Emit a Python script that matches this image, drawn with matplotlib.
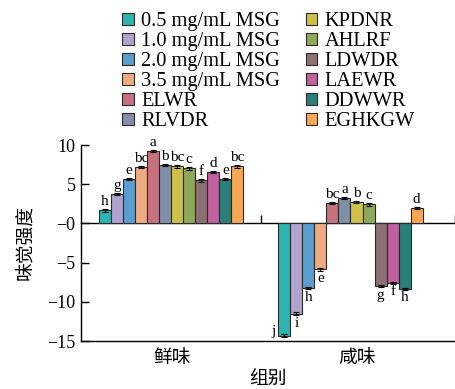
import matplotlib
matplotlib.use("Agg")
import matplotlib.pyplot as plt
import numpy as np
from matplotlib.patches import Patch

groups = ["鲜味", "咸味"]
series = ["0.5 mg/mL MSG", "1.0 mg/mL MSG", "2.0 mg/mL MSG", "3.5 mg/mL MSG",
          "ELWR", "RLVDR", "KPDNR", "AHLRF", "LDWDR", "LAEWR", "DDWWR", "EGHKGW"]
colors = ["#2bb5b0", "#b1a3cf", "#589fd0", "#eeab80", "#c7707e", "#7e8fa8",
          "#cfc04a", "#8fa75a", "#8d7074", "#c0609c", "#2a7f78", "#f6a855"]

umami = [1.66, 3.79, 5.7, 7.19, 9.23, 7.41, 7.28, 7.02, 5.49, 6.55, 5.7, 7.28]
salty = [-14.3, -11.53, -8.26, -5.87, 2.6, 3.24, 2.72, 2.43, -8.0, -7.57, -8.34, 1.95]
umami_err = [0.2, 0.15, 0.15, 0.15, 0.15, 0.15, 0.15, 0.15, 0.15, 0.15, 0.15, 0.15]
salty_err = [0.2, 0.2, 0.15, 0.15, 0.15, 0.15, 0.15, 0.15, 0.15, 0.15, 0.15, 0.15]
umami_sig = ["h", "g", "e", "bc", "a", "b", "bc", "c", "f", "d", "e", "bc"]
salty_sig = ["j", "i", "h", "e", "bc", "a", "b", "c", "g", "f", "h", "d"]

yticks = [-15, -10, -5, 0, 5, 10]
yticklabels = ["\u221215", "\u221210", "\u22125", "\u22120", "5", "10"]

SERIF = "Liberation Serif"
CJK = "Noto Sans CJK SC"

fig = plt.figure(figsize=(4.56, 3.89), dpi=100)
W, H = 456, 389
ax = fig.add_axes([81 / W, 1 - 341 / H, (455 - 81) / W, (341 - 145) / H])

n = len(series)
bw = 0.0671
x = np.arange(len(groups))
values = np.array([umami, salty])
errs = np.array([umami_err, salty_err])
sigs = [umami_sig, salty_sig]

for i in range(n):
    pos = x + (i - (n - 1) / 2) * bw
    ax.bar(pos, values[:, i], width=bw, color=colors[i], edgecolor="#2a2a2a",
           linewidth=0.8, zorder=3)
    ax.errorbar(pos, values[:, i], yerr=errs[:, i], fmt="none", ecolor="black",
                elinewidth=0.8, capsize=2.5, capthick=0.8, zorder=4)
    for g in range(len(groups)):
        v = values[g, i]
        e = errs[g, i]
        lab = sigs[g][i]
        if v >= 0:
            ax.annotate(lab, (pos[g], v + e), xytext=(0, 0.5), textcoords="offset points",
                        ha="center", va="bottom", fontsize=11, family=SERIF, zorder=5)
        elif g == 1 and i == 0:
            ax.annotate(lab, (pos[g], v), xytext=(-6.5, 3), textcoords="offset points",
                        ha="right", va="center", fontsize=11, family=SERIF, zorder=5)
        else:
            ax.annotate(lab, (pos[g], v - e), xytext=(0, -1), textcoords="offset points",
                        ha="center", va="top", fontsize=11, family=SERIF, zorder=5)

xmin, xmax = -0.503, 1.583
ax.set_xlim(xmin, xmax)
ax.set_ylim(-15, 10)

ax.spines["right"].set_visible(False)
ax.spines["top"].set_position(("data", 0))
ax.spines["top"].set_linewidth(1.0)
ax.spines["left"].set_linewidth(1.0)
ax.spines["bottom"].set_linewidth(1.0)

ax.set_yticks(yticks)
ax.set_yticklabels(yticklabels, family=SERIF, fontsize=13)
ax.tick_params(axis="y", direction="in", length=6, width=1.0, pad=4)

ax.xaxis.set_ticks_position("top")
ax.set_xticks([0.5, xmax])
ax.tick_params(axis="x", direction="out", length=5.5, width=1.0, labeltop=False,
               labelbottom=False, top=True, bottom=False)

for g, name in enumerate(groups):
    xpos = [171.7, 356.7][g]
    fig.text(xpos / W, 1 - 357 / H, name, ha="center", va="center",
             family=CJK, fontsize=13.5)
fig.text(267.5 / W, 1 - 379 / H, "组别", ha="center", va="center", family=CJK, fontsize=13.5)
fig.text(25 / W, 1 - 242 / H, "味觉强度", ha="center", va="center", rotation=90,
         family=CJK, fontsize=13.5)

handles = [Patch(facecolor=c, edgecolor="#2a2a2a", linewidth=0.8) for c in colors]
fig.legend(handles, series, ncol=2, loc="upper left", bbox_to_anchor=(122 / W, 1 - 12 / H),
           frameon=False, prop={"family": SERIF, "size": 14.7}, handlelength=0.58,
           handleheight=0.52, handletextpad=0.35, labelspacing=0.05, columnspacing=1.25,
           borderaxespad=0, borderpad=0)

fig.savefig("out.png", dpi=100)
